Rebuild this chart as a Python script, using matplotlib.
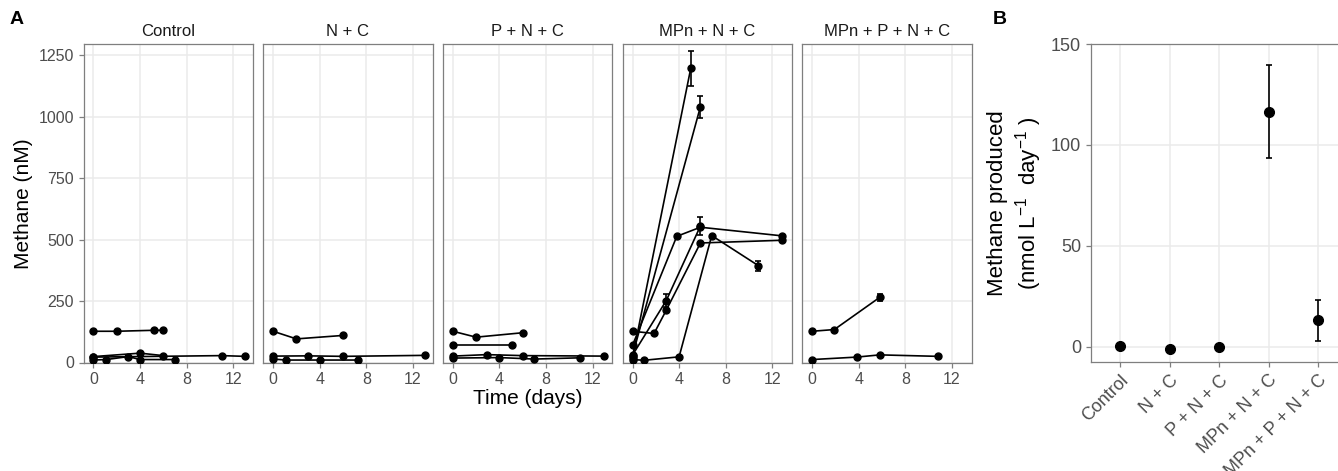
import matplotlib
matplotlib.use("Agg")
import matplotlib.pyplot as plt
import numpy as np

plt.rcParams['font.family'] = ['Liberation Sans', 'DejaVu Sans']
plt.rcParams['mathtext.default'] = 'regular'

# ---- panel A data: one list per bottle (days, methane nM, sd) ----
treatments = ["Control", "N + C", "P + N + C", "MPn + N + C", "MPn + P + N + C"]

control_days = [[0, 2, 5.2, 6], [0, 4, 6], [0, 11, 13], [0, 1.1, 3, 4, 7]]
control_vals = [[127, 127, 131, 131], [24, 38, 28], [22, 28, 25], [10, 12, 24, 12, 12]]
control_err = [[0, 0, 0, 0], [0, 0, 0], [0, 0, 0], [0, 0, 0, 0, 0]]

nc_days = [[0, 2, 6], [0, 3, 6, 13], [0, 1.1, 4, 7.3]]
nc_vals = [[127, 96, 110], [26, 27, 25, 29], [14, 10, 10, 10]]
nc_err = [[0, 0, 0], [0, 0, 0, 0], [0, 0, 0, 0]]

pnc_days = [[0, 2, 6], [0, 5.1], [0, 2.9, 6, 13], [0, 4, 7, 10.9]]
pnc_vals = [[127, 103, 121], [73, 73], [26, 32, 28, 26], [18, 20, 14, 19]]
pnc_err = [[0, 0, 0], [0, 0], [0, 0, 0, 0], [0, 0, 0, 0]]

mpnc_days = [[0, 5], [0, 5.83], [0, 3.8, 5.83, 12.83], [0, 1.85, 2.9, 5.83, 12.83],
             [0, 2.9, 5.83], [0, 1, 4, 6.8, 10.8]]
mpnc_vals = [[20, 1196], [28, 1040], [70, 513, 550, 515], [127, 118, 213, 486, 497],
             [30, 252, 555], [12, 9, 23, 516, 394]]
mpnc_err = [[0, 70], [0, 45], [0, 0, 0, 0], [0, 0, 0, 0, 0],
            [0, 25, 35], [0, 0, 0, 0, 20]]

mppnc_days = [[0, 1.9, 5.8], [0, 3.83, 5.8, 10.8]]
mppnc_vals = [[127, 134, 265], [12, 22, 31, 25]]
mppnc_err = [[0, 0, 15], [0, 0, 0, 0]]

facet_days = [control_days, nc_days, pnc_days, mpnc_days, mppnc_days]
facet_vals = [control_vals, nc_vals, pnc_vals, mpnc_vals, mppnc_vals]
facet_err = [control_err, nc_err, pnc_err, mpnc_err, mppnc_err]

# ---- panel B data: rate of methane production ----
rate_mean = [0.5, -1.2, 0.0, 116.5, 13.2]
rate_sd = [0, 0, 0, 23.1, 10.2]

grid_col = '#ebebeb'
border_col = '#7f7f7f'
tick_col = '#4d4d4d'

W, H = 1338, 471
fig = plt.figure(figsize=(W / 100, H / 100), dpi=100)


def box(x0, y0, x1, y1):
    # pixel box (top-left origin) -> figure fraction rect
    return [x0 / W, 1 - y1 / H, (x1 - x0) / W, (y1 - y0) / H]


def style(ax, tick_size):
    ax.set_facecolor('white')
    ax.grid(True, color=grid_col, lw=1.1)
    ax.set_axisbelow(True)
    for s in ax.spines.values():
        s.set_color(border_col)
        s.set_linewidth(0.9)
    ax.tick_params(colors=border_col, labelcolor=tick_col, labelsize=tick_size,
                   length=3.5, width=0.9)


step = 179.7
for i, name in enumerate(treatments):
    x0 = 83.5 + i * step
    ax = fig.add_axes(box(x0, 44, x0 + 169.5, 362.5))
    style(ax, 11.5)
    for d, v, e in zip(facet_days[i], facet_vals[i], facet_err[i]):
        ax.plot(d, v, '-', color='black', lw=1.2, zorder=3)
        ax.plot(d, v, 'o', color='black', ms=5, zorder=4)
        d = np.array(d)
        v = np.array(v)
        e = np.array(e)
        m = e > 0
        if m.any():
            ax.errorbar(d[m], v[m], yerr=e[m], fmt='none', ecolor='black',
                        elinewidth=1.2, capsize=2, capthick=1.2, zorder=4)
    ax.set_xlim(-0.85, 13.7)
    ax.set_ylim(0, 1295)
    ax.set_xticks([0, 4, 8, 12])
    ax.set_yticks([0, 250, 500, 750, 1000, 1250])
    if i > 0:
        ax.tick_params(axis='y', length=0, labelleft=False)
    else:
        ax.set_ylabel("Methane (nM)", fontsize=15, color='black', labelpad=4)
    ax.set_title(name, fontsize=12, color='#1a1a1a', pad=6)
    if i == 2:
        ax.set_xlabel("Time (days)", fontsize=15, color='black', labelpad=1)

fig.text(10 / W, 1 - 20 / H, "A", fontsize=14, fontweight='bold', va='center')
fig.text(993 / W, 1 - 20 / H, "B", fontsize=14, fontweight='bold', va='center')

# ---- panel B ----
axb = fig.add_axes(box(1090.7, 44, 1348, 362))
style(axb, 13)
xb = np.arange(len(treatments))
axb.plot(xb, rate_mean, 'o', color='black', ms=7, zorder=4)
sd = np.array(rate_sd)
m = sd > 0
axb.errorbar(xb[m], np.array(rate_mean)[m], yerr=sd[m], fmt='none', ecolor='black',
             elinewidth=1.2, capsize=2.5, capthick=1.2, zorder=4)
axb.set_xlim(-0.6, len(treatments) - 0.4)
axb.set_ylim(-7.5, 150)
axb.set_yticks([0, 50, 100, 150])
axb.set_xticks(xb)
axb.set_xticklabels(treatments, rotation=45, ha='right', rotation_mode='anchor')
axb.set_ylabel("Methane produced\n(nmol L$^{-1}$  day$^{-1}$ )", fontsize=16,
               color='black', labelpad=5)

fig.savefig("out.png", dpi=100, facecolor='white')
